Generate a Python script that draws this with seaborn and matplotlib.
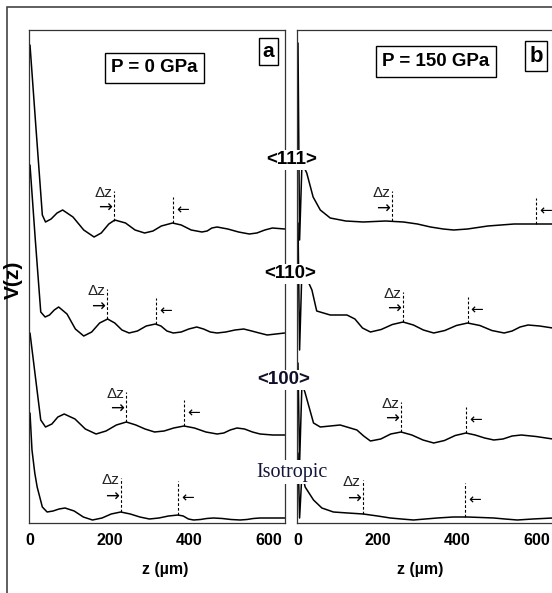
import numpy as np
import pandas as pd
import seaborn as sns
import matplotlib.pyplot as plt
from matplotlib.patches import Rectangle
from matplotlib.ticker import MultipleLocator

sns.set_style("white")
plt.rcParams["font.family"] = ["Liberation Sans Narrow", "Liberation Sans", "DejaVu Sans"]
plt.rcParams["text.color"] = "black"
plt.rcParams["axes.labelcolor"] = "black"
plt.rcParams["xtick.color"] = "black"

orients = ["<111>", "<110>", "<100>", "Isotropic"]

# panel a, P = 0 GPa  (V(z) in arbitrary units, curves stacked)
z_a111 = [0, 15, 31, 39, 53, 68, 82, 108, 135, 161, 179, 198, 213, 240, 264, 288, 309, 330, 358, 380,
          405, 432, 445, 457, 470, 497, 524, 551, 570, 590, 609, 640]
v_a111 = [478, 395, 308, 301, 304, 310, 313, 306, 293, 286, 290, 299, 303, 300, 293, 290, 292, 297, 300, 298,
          293, 291, 292, 295, 296, 294, 291, 289, 290, 293, 295, 294]
z_a110 = [0, 13, 27, 38, 49, 61, 72, 93, 114, 135, 155, 175, 195, 213, 231, 249, 270, 292, 315, 329,
          344, 360, 380, 399, 419, 436, 453, 470, 492, 515, 537, 557, 576, 596, 640]
v_a110 = [358, 285, 211, 206, 208, 213, 216, 209, 194, 187, 191, 200, 204, 200, 193, 190, 192, 197, 199, 197,
          192, 190, 191, 194, 196, 194, 191, 190, 191, 193, 194, 192, 190, 188, 190]
z_a100 = [0, 13, 27, 39, 55, 70, 86, 113, 139, 166, 191, 217, 242, 266, 289, 313, 337, 361, 387, 413,
          442, 470, 487, 503, 520, 539, 559, 578, 610, 640]
v_a100 = [190, 148, 103, 96, 99, 106, 109, 104, 94, 89, 92, 98, 101, 98, 94, 91, 92, 95, 97, 95,
          91, 89, 90, 93, 95, 94, 91, 89, 88, 88]
z_aiso = [0, 5, 12, 18, 31, 43, 58, 73, 88, 111, 134, 157, 181, 204, 228, 252, 276, 300, 324, 348,
          372, 385, 398, 411, 428, 444, 461, 483, 505, 528, 545, 561, 578, 610, 640]
v_aiso = [110, 73, 50, 36, 16, 11, 12, 14, 15, 12, 6, 3, 5, 9, 11, 9, 6, 4, 5, 7,
          8, 7, 4, 3, 3.5, 4.5, 5, 4.5, 3.5, 3, 3.5, 4.5, 5, 5, 5]

# panel b, P = 150 GPa
z_b111 = [0, 4, 10, 22, 38, 56, 81, 120, 164, 220, 265, 300, 333, 365, 391, 426, 477, 543, 640]
v_b111 = [480, 283, 360, 350, 326, 313, 305, 302, 301, 302, 301, 299, 296, 294, 293, 294, 297, 299, 299]
z_b110 = [0, 4, 10, 35, 47, 81, 123, 143, 162, 182, 209, 237, 264, 290, 315, 341, 369, 398, 426, 457,
          487, 518, 538, 558, 578, 607, 640]
v_b110 = [300, 173, 255, 233, 212, 208, 208, 204, 195, 191, 193.5, 198.5, 201, 198, 193, 190, 192.5, 197.5, 200, 197.5,
          192.5, 190, 192, 196, 198, 197, 195]
z_b100 = [0, 4, 10, 18, 39, 56, 106, 148, 165, 182, 208, 233, 259, 286, 314, 341, 368, 395, 422, 445,
          469, 492, 515, 538, 561, 598, 640]
v_b100 = [160, 60, 140, 130, 100, 96, 98, 93, 87, 82, 84, 89, 91, 88, 83, 80, 82.5, 87.5, 90, 88,
          85, 83, 84, 87, 88, 86.5, 84]
z_biso = [0, 4, 10, 18, 39, 60, 89, 125, 164, 200, 232, 260, 290, 320, 350, 390, 426, 460, 492, 520,
          551, 590, 640]
v_biso = [70, 5, 50, 36, 23, 15, 11, 10, 9, 7, 5, 4, 3, 4, 5, 6, 6, 5.5, 5, 4,
          3, 4, 5]

# delta z markers (um), one pair per curve, same order as orients
dz_first_a = [211, 194, 242, 229]
dz_second_a = [360, 316, 388, 373]
dz_first_b = [237, 264, 259, 163]
dz_second_b = [598, 426, 422, 420]

xticks = [0, 200, 400, 600]

curves = {
    ("a", "<111>"): (z_a111, v_a111),
    ("a", "<110>"): (z_a110, v_a110),
    ("a", "<100>"): (z_a100, v_a100),
    ("a", "Isotropic"): (z_aiso, v_aiso),
    ("b", "<111>"): (z_b111, v_b111),
    ("b", "<110>"): (z_b110, v_b110),
    ("b", "<100>"): (z_b100, v_b100),
    ("b", "Isotropic"): (z_biso, v_biso),
}
frames = []
for (panel, name), (z, v) in curves.items():
    frames.append(pd.DataFrame({"panel": panel, "orient": name, "z": z, "V": v}))
df = pd.concat(frames, ignore_index=True)

W, H = 552, 593
PT = 0.72  # points per pixel at 100 dpi


def px_rect(x0, y0, x1, y1):
    return [x0 / W, 1 - y1 / H, (x1 - x0) / W, (y1 - y0) / H]


fig = plt.figure(figsize=(W / 100, H / 100), dpi=100)
ax_a = fig.add_axes(px_rect(29, 30, 285, 523))
ax_b = fig.add_axes(px_rect(297, 30, 553, 523))

bold = dict(fontweight="bold")

for ax, panel, first, second, lab_x in [(ax_a, "a", dz_first_a, dz_second_a, 0.531),
                                          (ax_b, "b", dz_first_b, dz_second_b, 0.48)]:
    sub = df[df["panel"] == panel]
    sns.lineplot(data=sub, x="z", y="V", units="orient", estimator=None, sort=False,
                 color="black", lw=1.1, legend=False, ax=ax)
    ax.set_xlim(-2.5, 640.7)
    ax.set_ylim(0, 493)
    ax.set_yticks([])
    ax.set_ylabel("")
    ax.set_xticks(xticks)
    ax.xaxis.set_minor_locator(MultipleLocator(100))
    ax.tick_params(axis="x", which="both", direction="in", length=3, width=0.8,
                   pad=7, labelsize=11.5, colors="black")
    for t in ax.get_xticklabels():
        t.set_fontweight("bold")
    ax.set_xlabel("z (µm)", fontsize=11.5, **bold)
    ax.xaxis.set_label_coords(lab_x, -0.079)
    for s in ax.spines.values():
        s.set_color("#333333")
        s.set_linewidth(0.9)

    for i, name in enumerate(orients):
        z, v = curves[(panel, name)]
        h1, h2 = (34, 34) if name == "Isotropic" else (30, 26)
        y1 = np.interp(first[i], z, v)
        y2 = np.interp(second[i], z, v)
        ax.plot([first[i], first[i]], [y1, y1 + h1], color="black", lw=0.8, ls=(0, (2.5, 1.8)))
        ax.plot([second[i], second[i]], [y2, y2 + h2], color="black", lw=0.8, ls=(0, (2.5, 1.8)))
        ax.annotate("Δz", xy=(first[i], y1 + h1), xytext=(-11 * PT, -2 * PT),
                    textcoords="offset points", ha="center", va="center",
                    fontsize=11, color="#222222", family=["Liberation Sans", "DejaVu Sans"])
        ax.annotate("→", xy=(first[i], y1 + h1 / 2), xytext=(-2 * PT, -2 * PT),
                    textcoords="offset points", ha="right", va="center",
                    fontsize=12, color="black", family="DejaVu Sans")
        ax.annotate("←", xy=(second[i], y2 + h2 / 2), xytext=(3 * PT, 0),
                    textcoords="offset points", ha="left", va="center",
                    fontsize=11, color="black", family="DejaVu Sans")


def ftext(x, y, s, **kw):
    fig.text(x / W, 1 - y / H, s, ha="center", va="center", **kw)


box = dict(boxstyle="square,pad=0.35", fc="white", ec="black", lw=1.0)
ftext(154.5, 68, "P = 0 GPa", fontsize=13.5, bbox=box, **bold)
ftext(436, 61.5, "P = 150 GPa", fontsize=13.5, bbox=box, **bold)
ftext(268.5, 51.5, "a", fontsize=15, bbox=dict(boxstyle="square,pad=0.2", fc="white", ec="black", lw=1.0), **bold)
ftext(536, 56, "b", fontsize=16, bbox=dict(boxstyle="square,pad=0.2", fc="white", ec="black", lw=1.0), **bold)

white = dict(boxstyle="square,pad=0.1", fc="white", ec="none")
ftext(291.5, 160, "<111>", fontsize=13.5, bbox=white, zorder=5, **bold)
ftext(290, 274, "<110>", fontsize=13.5, bbox=white, zorder=5, **bold)
ftext(284, 380, "<100>", fontsize=13.5, bbox=white, color="#101028", zorder=5, **bold)
ftext(291.5, 472, "Isotropic", fontsize=14.5, bbox=white, color="#15153a", zorder=5,
      family="Liberation Serif")

fig.text(13 / W, 1 - 280 / H, "V(z)", rotation=90, ha="center", va="center", fontsize=15, **bold)

fig.add_artist(Rectangle((7 / W, -0.05), 1.2, 1 - 7 / H + 0.05, transform=fig.transFigure,
                         fill=False, ec="#444444", lw=1.2, clip_on=False))

fig.savefig("out.png", dpi=100)
